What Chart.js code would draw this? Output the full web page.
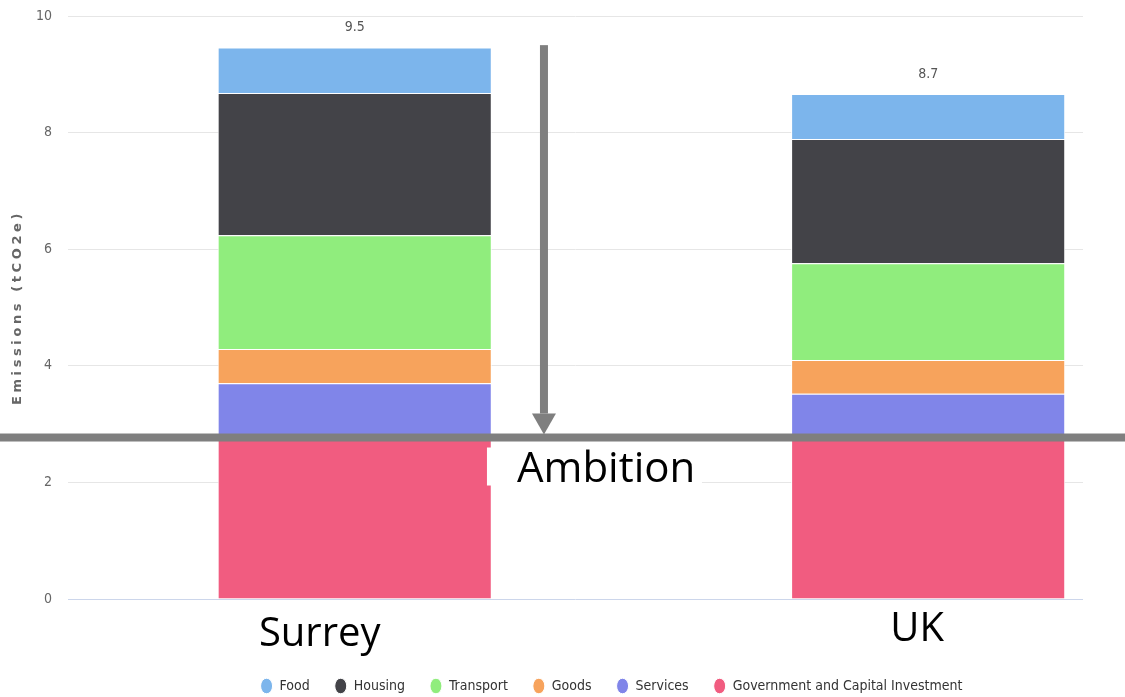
<!DOCTYPE html>
<html>
<head>
<meta charset="utf-8">
<script src="https://cdn.jsdelivr.net/npm/chart.js@4"></script>
<style>
  body { margin: 0; background: #fff; }
  #wrap { width: 1125px; height: 697px; position: relative; }
</style>
</head>
<body>
<div id="wrap"><canvas id="emissions"></canvas></div>
<script>
// data (tCO2e per person)
const categories = ['Surrey', 'UK']
const govt = [2.76, 2.76]
const services = [0.94, 0.76]
const goods = [0.59, 0.58]
const transport = [1.95, 1.66]
const housing = [2.44, 2.13]
const food = [0.78, 0.77]
const yTicks = [0, 2, 4, 6, 8, 10]

// annotation
const ambition = 2.77
const arrowTop = 9.5
const arrowX = 0.33

const narrow = "'Liberation Sans Narrow', 'DejaVu Sans Condensed', sans-serif"
const bigFont = "'Open Sans', sans-serif"

// bottom of stack first, legend is reversed
const series = [
    { label: 'Government and Capital Investment', values: govt, color: '#f15c80' },
    { label: 'Services', values: services, color: '#8085e9' },
    { label: 'Goods', values: goods, color: '#f7a35c' },
    { label: 'Transport', values: transport, color: '#90ed7d' },
    { label: 'Housing', values: housing, color: '#434348' },
    { label: 'Food', values: food, color: '#7cb5ec' }
]

const totals = categories.map((c, i) => series.reduce((s, d) => s + d.values[i], 0))

const overlay = {
    id: 'overlay',
    afterLayout(chart) {
        // legend sits right of centre and a bit low in the original
        const lg = chart.legend
        lg.left += 70; lg.right += 70
        lg.top += 6; lg.bottom += 6
    },
    afterDraw(chart) {
        const ctx = chart.ctx
        const x = chart.scales.x
        const y = chart.scales.y
        const area = chart.chartArea
        ctx.save()

        // y title, spaced out like the original
        ctx.save()
        ctx.translate(18, (area.top + area.bottom) / 2)
        ctx.rotate(-Math.PI / 2)
        ctx.fillStyle = '#666'
        ctx.font = 'bold 13px "DejaVu Sans", sans-serif'
        ctx.letterSpacing = '3.6px'
        ctx.textAlign = 'center'
        ctx.textBaseline = 'middle'
        ctx.fillText('Emissions (tCO2e)', 0, 0)
        ctx.restore()

        // stack totals
        ctx.fillStyle = '#555'
        ctx.font = '14px ' + narrow
        ctx.textAlign = 'center'
        ctx.textBaseline = 'middle'
        totals.forEach((t, i) => {
            ctx.fillText(t.toFixed(1), x.getPixelForValue(i), y.getPixelForValue(t) - 20)
        })

        // ambition line + arrow
        const ay = y.getPixelForValue(ambition)
        ctx.fillStyle = '#7f7f7f'
        ctx.fillRect(0, ay - 4, chart.width, 8)
        const ax = x.getPixelForValue(arrowX)
        const top = y.getPixelForValue(arrowTop)
        ctx.fillRect(ax - 4, top, 8, ay - 4 - 20 - top)
        ctx.beginPath()
        ctx.moveTo(ax - 12, ay - 24)
        ctx.lineTo(ax + 12, ay - 24)
        ctx.lineTo(ax, ay - 3)
        ctx.closePath()
        ctx.fill()

        // Ambition text box
        ctx.fillStyle = '#fff'
        ctx.fillRect(ax - 57, ay + 10, 215, 38)
        ctx.fillStyle = '#000'
        ctx.font = '42px ' + bigFont
        ctx.textAlign = 'left'
        ctx.textBaseline = 'alphabetic'
        ctx.fillText('Ambition', ax - 27, ay + 44)

        // category names
        ctx.font = '40px ' + bigFont
        ctx.textAlign = 'center'
        const shift = [-35, -11]
        const base = [646, 641]
        categories.forEach((c, i) => {
            ctx.fillText(c, x.getPixelForValue(i) + shift[i], base[i])
        })
        ctx.restore()
    }
}

new Chart(document.getElementById('emissions'), {
    type: 'bar',
    data: {
        datasets: series.map(s => ({
            label: s.label,
            data: s.values.map((v, i) => ({ x: i, y: v })),
            backgroundColor: s.color,
            borderColor: '#fff',
            borderWidth: 1,
            categoryPercentage: 1,
            barPercentage: 0.478
        }))
    },
    options: {
        responsive: true,
        maintainAspectRatio: false,
        animation: false,
        layout: { padding: { top: 16, right: 42, left: 0, bottom: 0 } },
        scales: {
            x: {
                type: 'linear',
                stacked: true,
                offset: false,
                min: -0.5,
                max: 1.27,
                afterBuildTicks: s => { s.ticks = categories.map((c, i) => ({ value: i })) },
                afterFit: s => { s.height = 49 },
                ticks: { display: false },
                grid: { display: false, offset: false },
                border: { display: false }
            },
            y: {
                stacked: true,
                min: 0,
                max: 10,
                afterBuildTicks: s => { s.ticks = yTicks.map(v => ({ value: v })) },
                afterFit: s => { s.width = 68; s.paddingTop = 0; s.paddingBottom = 0 },
                ticks: { color: '#666', font: { family: narrow, size: 14 }, padding: 16 },
                grid: {
                    color: ctx => ctx.tick && ctx.tick.value === 0 ? '#ccd6eb' : '#e6e6e6',
                    drawTicks: false
                },
                border: { display: false },
                title: { display: false }
            }
        },
        plugins: {
            legend: {
                position: 'bottom',
                reverse: true,
                labels: {
                    usePointStyle: true,
                    pointStyle: 'circle',
                    pointStyleWidth: 12,
                    boxHeight: 11,
                    padding: 25,
                    color: '#333',
                    font: { family: narrow, size: 14 }
                }
            },
            tooltip: { enabled: false }
        }
    },
    plugins: [overlay]
});
</script>
</body>
</html>
